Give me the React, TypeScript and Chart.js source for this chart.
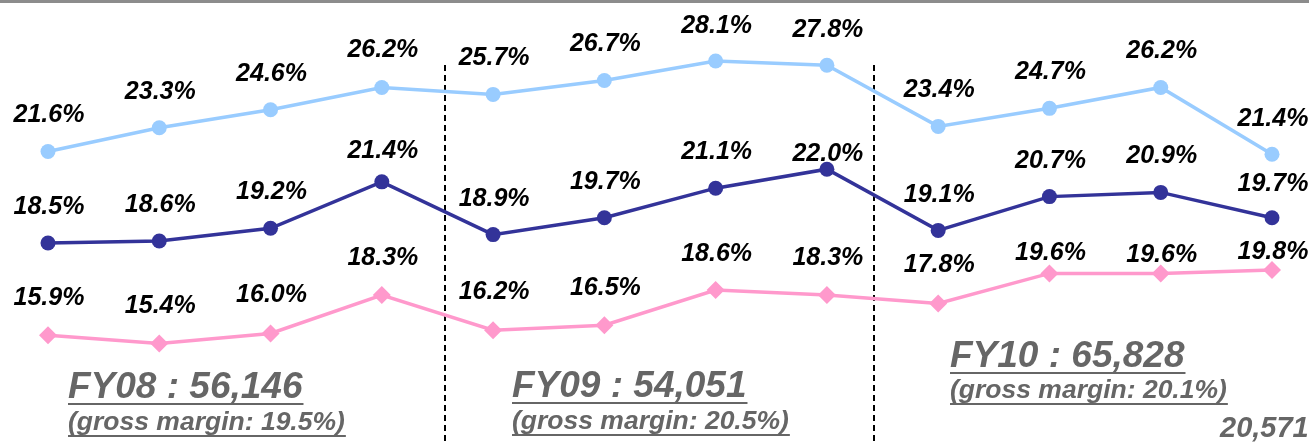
import React, { useEffect, useRef } from "react";
import { Chart, registerables } from "chart.js";

Chart.register(...registerables);

const categories = ["Q1", "Q2", "Q3", "Q4", "Q1", "Q2", "Q3", "Q4", "Q1", "Q2", "Q3", "Q4"];
const seriesTop = [21.6, 23.3, 24.6, 26.2, 25.7, 26.7, 28.1, 27.8, 23.4, 24.7, 26.2, 21.4];
const seriesMid = [18.5, 18.6, 19.2, 21.4, 18.9, 19.7, 21.1, 22.0, 19.1, 20.7, 20.9, 19.7];
const seriesLow = [15.9, 15.4, 16.0, 18.3, 16.2, 16.5, 18.6, 18.3, 17.8, 19.6, 19.6, 19.8];

const fyTitles = ["FY08 : 56,146", "FY09 : 54,051", "FY10 : 65,828"];
const fyMargins = ["(gross margin: 19.5%)", "(gross margin: 20.5%)", "(gross margin: 20.1%)"];
const cornerNote = "20,571";

// label distance above each point (px), per series
const labelOffTop = [36, 36, 36, 37, 36, 36, 35, 35, 36, 36, 36, 35];
const labelOffMid = [36, 36, 36, 31, 36, 36, 36, 15, 35, 36, 36, 34];
const labelOffLow = [37, 37, 38, 37, 38, 37, 36, 37, 38, 20, 18, 18];

const dividerAt = [3.57, 7.42];

export default function App() {
  const ref = useRef<HTMLCanvasElement | null>(null);

  useEffect(() => {
    const canvas = ref.current;
    if (!canvas) return;

    const overlay = {
      id: "overlay",
      beforeDatasetsDraw(chart: any) {
        const ctx = chart.ctx;
        const xs = chart.scales.x;
        ctx.save();
        ctx.fillStyle = "#8c8c8c";
        ctx.fillRect(0, 0, chart.width, 3);
        ctx.strokeStyle = "#000";
        ctx.lineWidth = 2;
        ctx.setLineDash([6, 4]);
        dividerAt.forEach((v) => {
          const x = Math.round(xs.getPixelForValue(v));
          ctx.beginPath();
          ctx.moveTo(x, 65);
          ctx.lineTo(x, chart.height);
          ctx.stroke();
        });
        ctx.restore();
      },
      afterDatasetsDraw(chart: any) {
        const ctx = chart.ctx;
        ctx.save();
        ctx.fillStyle = "#000";
        ctx.textAlign = "center";
        ctx.textBaseline = "middle";
        ctx.font = "italic bold 25px 'Liberation Sans', Arial, sans-serif";
        const offs = [labelOffTop, labelOffMid, labelOffLow];
        chart.data.datasets.forEach((ds: any, di: number) => {
          const meta = chart.getDatasetMeta(di);
          meta.data.forEach((pt: any, i: number) => {
            ctx.fillText(ds.data[i].toFixed(1) + "%", pt.x + 1, pt.y - offs[di][i]);
          });
        });

        const gray = "#666666";
        ctx.fillStyle = gray;
        ctx.textAlign = "left";
        ctx.textBaseline = "alphabetic";
        const blocks = [
          { x: 68, y1: 398, y2: 430 },
          { x: 512, y1: 397, y2: 429 },
          { x: 950, y1: 367, y2: 398 },
        ];
        blocks.forEach((b, i) => {
          ctx.font = "italic bold 37px 'Liberation Sans', Arial, sans-serif";
          const w1 = ctx.measureText(fyTitles[i]).width;
          ctx.fillText(fyTitles[i], b.x, b.y1);
          ctx.fillRect(b.x, b.y1 + 5, w1 + 1, 2);
          ctx.font = "italic bold 26.5px 'Liberation Sans', Arial, sans-serif";
          const w2 = ctx.measureText(fyMargins[i]).width;
          ctx.fillText(fyMargins[i], b.x, b.y2);
          ctx.fillRect(b.x, b.y2 + 5, w2 + 1, 2);
        });
        ctx.font = "italic bold 29px 'Liberation Sans', Arial, sans-serif";
        ctx.fillText(cornerNote, 1220, 437);
        ctx.restore();
      },
    };

    const chart = new Chart(canvas, {
      type: "line",
      data: {
        labels: categories,
        datasets: [
          {
            data: seriesTop,
            yAxisID: "yTop",
            borderColor: "#99ccff",
            backgroundColor: "#99ccff",
            borderWidth: 3.5,
            pointRadius: 7.5,
            pointStyle: "circle",
            pointBorderWidth: 0,
            clip: false,
          },
          {
            data: seriesMid,
            yAxisID: "yMid",
            borderColor: "#333399",
            backgroundColor: "#333399",
            borderWidth: 3.5,
            pointRadius: 7.5,
            pointStyle: "circle",
            pointBorderWidth: 0,
            clip: false,
          },
          {
            data: seriesLow,
            yAxisID: "yLow",
            borderColor: "#ff99cc",
            backgroundColor: "#ff99cc",
            borderWidth: 3.5,
            pointRadius: 9,
            pointStyle: "rectRot",
            pointBorderWidth: 0,
            clip: false,
          },
        ],
      },
      options: {
        responsive: false,
        animation: false,
        layout: { padding: { left: 48, right: 37, top: 0, bottom: 0 } },
        plugins: { legend: { display: false }, tooltip: { enabled: false } },
        scales: {
          x: { display: false, offset: false },
          yTop: { display: false, min: 1.36, max: 31.84 },
          yMid: { display: false, min: 9.5, max: 29.59 },
          yLow: { display: false, min: 10.04, max: 35.44 },
        },
      },
      plugins: [overlay],
    });

    return () => chart.destroy();
  }, []);

  return (
    <div style={{ position: "absolute", left: 0, top: 0, width: 1309, height: 442, background: "#fff" }}>
      <canvas ref={ref} width={1309} height={442} style={{ display: "block" }} />
    </div>
  );
}
